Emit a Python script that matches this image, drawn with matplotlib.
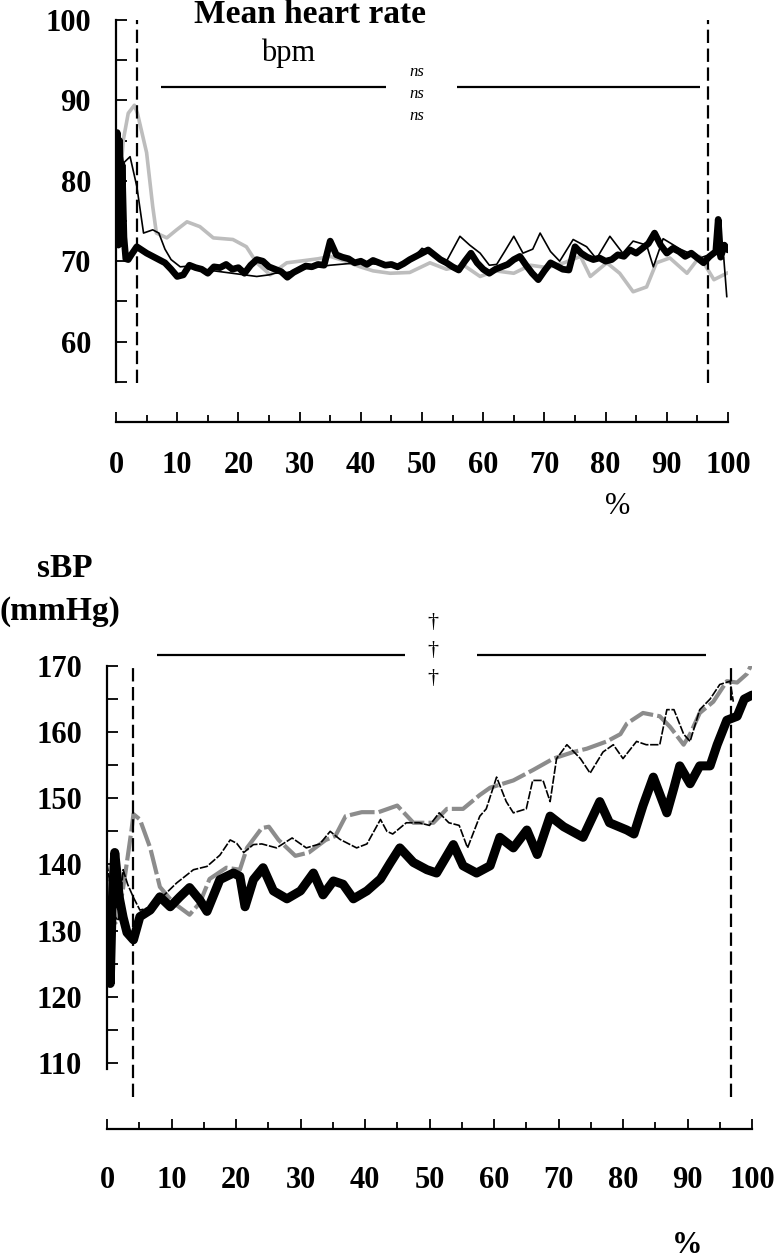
import matplotlib
matplotlib.use("Agg")
import matplotlib.pyplot as plt
import numpy as np

plt.rcParams['font.family'] = ['Liberation Serif', 'DejaVu Serif']

# ---- heart rate (bpm), % of exercise ----
hr_thick_x = [0, 0.2, 0.4, 0.6, 0.8, 1.0, 1.3, 1.6, 2.0, 2.5, 3.4, 4.2, 5, 6, 7, 8, 9, 10,
              11, 12, 13, 14, 15, 16, 17, 18, 19, 20, 21, 22, 23, 24, 25, 26, 27, 28, 29, 30,
              31, 32, 33, 34, 35, 36, 37, 38, 39, 40, 41, 42, 43, 44, 45, 46, 47, 48, 49, 50,
              51, 52, 53, 54, 55, 56, 57, 58, 59, 60, 61, 62, 63, 64, 65, 66, 67, 68, 69, 70,
              71, 72, 73, 74, 75, 76, 77, 78, 79, 80, 81, 82, 83, 84, 85, 86, 87, 88, 89, 90,
              91, 92, 93, 94, 95, 96, 97, 98, 98.4, 98.8, 99.4, 100]
hr_thick = [76, 86, 72, 85, 74, 82, 73, 70.3, 70.2, 70.8, 71.8, 71.4, 71, 70.6, 70.2, 69.8, 69, 68.1,
            68.3, 69.5, 69.2, 69, 68.5, 69.3, 69.2, 69.6, 69, 69.2, 68.5, 69.5, 70.2, 70.0, 69.3, 69, 68.7, 68.0, 68.6, 69,
            69.4, 69.3, 69.6, 69.5, 72.5, 70.8, 70.5, 70.3, 69.8, 70, 69.6, 70.1, 69.8, 69.5, 69.6, 69.3, 69.7, 70.2, 70.6, 71.0,
            71.4, 70.8, 70.2, 69.8, 69.3, 68.9, 70.0, 71.0, 69.8, 69.0, 68.5, 69, 69.3, 69.6, 70.2, 70.6, 69.5, 68.5, 67.7, 68.8,
            69.8, 69.4, 69.0, 68.9, 71.8, 71.0, 70.5, 70.2, 70.4, 70.0, 70.2, 70.8, 70.6, 71.4, 71.0, 71.6, 72.2, 73.5, 72.0, 71.0,
            71.6, 71.2, 70.6, 71.0, 70.4, 69.8, 70.6, 71.2, 75.2, 70.5, 72, 71.4]

hr_thin_x = [0, 0.3, 0.6, 0.9, 1.2, 2.3, 3.4, 4.5, 6, 7, 8, 9, 10.5, 12, 14, 16, 19, 21, 23, 25,
             26, 28, 30, 32, 35, 38, 40, 43, 46, 48, 50, 52, 54, 56.2, 57.8, 59.5, 61, 62.2, 63.5, 65,
             66.5, 68.1, 69.3, 71, 72.5, 74.7, 76.9, 78.5, 80.7, 82.8, 84.5, 86.7, 87.8, 89.4, 92.2,
             95.4, 97.7, 99.3, 99.8]
hr_thin = [79, 84.7, 80, 83.5, 82.2, 83, 79.3, 73.5, 73.9, 73.5, 71.5, 70.2, 69.3, 69.4, 69, 68.8, 68.5, 68.3, 68.1, 68.3,
           68.5, 68.6, 69, 69.2, 69.5, 69.7, 69.8, 69.6, 69.4, 70.0, 71.6, 70.9, 70, 73.1, 72, 71, 69.5, 69.6, 71.2, 73.1,
           71, 71.5, 73.5, 71.2, 70, 72.7, 71.8, 70.3, 73.1, 71, 72.5, 72, 69.3, 72.8, 71.5,
           70.4, 71, 70.5, 65.6]

hr_gray_x = [0, 0.4, 0.8, 1.2, 2, 3, 3.5, 5, 6, 6.6, 8.3, 9.9, 11.6, 13.7, 15.9, 19.1, 21.3, 23, 25.2,
             27.9, 30, 33, 35, 37.5, 39.9, 42, 44.8, 48, 51.3, 54, 56.8, 59.5, 62, 65, 67.7, 70.5, 73.2,
             75.9, 77.5, 80.2, 82.3, 84.5, 86.7, 88.3, 90.5, 93.3, 95.4, 97.7, 99.8]
hr_gray = [74.9, 77.9, 81.4, 85.1, 88.4, 89.4, 88.4, 83.5, 76.8, 73.5, 72.9, 73.9, 74.9, 74.3, 72.9, 72.7, 71.8, 69.8, 68.3,
           69.8, 70, 70.3, 70.6, 70.0, 69.3, 68.8, 68.5, 68.6, 69.8, 69, 69.5, 68.1, 68.8, 68.5, 69.5, 69.2, 69.8,
           70.6, 68.1, 69.8, 68.5, 66.2, 66.8, 69.8, 70.4, 68.5, 70.6, 67.7, 68.5]

# ---- systolic blood pressure (mmHg) ----
sbp_thick_x = [0, 0.3, 0.5, 0.8, 1.2, 1.6, 1.9, 2.5, 3.1, 4.1, 5.1, 6.7, 8.2, 9.8, 11.3, 12.8, 14.4, 15.5,
               17.5, 19.6, 20.6, 21.4, 22.7, 24.2, 25.8, 27.9, 30, 32, 33.5, 35.1, 36.6, 38.2, 40.3, 42.4,
               43.9, 45.4, 47.5, 49.6, 51.1, 53.7, 55.2, 57.3, 59.4, 60.9, 63, 65.1, 66.7, 68.7, 70.8, 73.8,
               76.4, 77.9, 80.6, 81.7, 83.1, 84.7, 86.8, 87.9, 88.8, 90.4, 91.9, 93.5, 94.6, 96.1, 97.7, 98.8, 100]
sbp_thick = [125, 127.6, 122, 134, 141.8, 138, 135, 132, 129.7, 128.6, 132.1, 133.1, 135.1, 133.6, 135.1, 136.5, 134.6, 132.9,
             137.7, 138.7, 138.2, 133.6, 137.7, 139.5, 136, 134.8, 136, 138.7, 135.4, 137.5, 137, 134.8, 136, 137.8,
             140.2, 142.5, 140.3, 139.2, 138.7, 143, 139.8, 138.7, 139.8, 144.1, 142.5, 145.2, 141.5, 147.3, 145.7, 144.1,
             149.5, 146.3, 145.2, 144.6, 148.9, 153.2, 147.8, 151.6, 154.9, 152.2, 154.9, 154.9, 158.1, 161.8, 162.4, 165, 165.6]

sbp_thin_x = [0, 0.6, 1.2, 1.8, 2.5, 3.2, 4.1, 5.1, 7.3, 9, 10.8, 13.4, 15.5, 17.5, 19.1, 20.1, 21.2, 22.7,
              24, 26.3, 28.7, 30.9, 33, 34.6, 36.1, 38.7, 40.3, 42.4, 43.4, 44.3, 46.4, 48.4, 50, 51.5, 53,
              54.6, 55.9, 57.8, 58.8, 60.4, 61.9, 63, 65, 66, 67.6, 68.7, 69.7, 71.3, 73.4, 74.9, 76.9, 78.5,
              80, 82.1, 83.6, 85.7, 86.8, 87.9, 89.4, 90.4, 91.9, 93.5, 95, 96.6, 97.1]
sbp_thin = [140.2, 136, 132.1, 131.5, 139.2, 137, 135, 133.1, 133.6, 135.5, 137.2, 139.2, 139.7, 141.4, 143.7, 143.2, 141.8, 143,
            143.1, 142.5, 144, 142.5, 143.1, 145, 143.8, 142.5, 143.1, 146.8, 145, 144.6, 146.3, 146.3, 145.9, 147.8, 146.3,
            145.9, 142.5, 147.3, 148.4, 153.2, 149.5, 147.8, 148.4, 152.7, 152.7, 149.5, 156, 158.1, 156, 153.8, 157, 158.1,
            156, 158.6, 158.1, 158.1, 163.4, 163.4, 159.7, 158.6, 163.4, 165, 167.2, 167.7, 164.6]

sbp_gray_x = [0, 0.7, 1.7, 2.7, 3.8, 4.1, 5.1, 6.7, 8.2, 10.3, 12.8, 14.4, 15.9, 18.5, 20.6, 21.7, 24, 25.1,
              26.6, 29.2, 31.3, 33.9, 35.4, 37, 39.5, 42.1, 45, 47.5, 50.6, 52.7, 55.2, 57.8, 59.4, 63, 66.1,
              69.2, 72.3, 74.4, 77.5, 79.6, 80.6, 83.1, 85.7, 87.3, 89.4, 90.4, 91.9, 94, 96.1, 97.7, 99.2, 100]
sbp_gray = [137.7, 130.6, 131.6, 137.7, 145.2, 147.6, 146.8, 142.5, 136.6, 134.2, 132.4, 134.2, 137.8, 139.5, 139.2, 142.5, 145.5, 145.7,
            143.7, 141.3, 141.8, 143.7, 144.3, 147.3, 147.9, 147.9, 148.9, 146.3, 146.3, 148.4, 148.4, 150.5, 151.6, 152.7, 154.3,
            156, 157, 157.5, 158.6, 159.7, 161.3, 162.9, 162.4, 160.8, 158.1, 159.7, 162.9, 164.6, 167.7, 167.5, 168.8, 170.4]

x_ticks = np.arange(0, 101, 10)
hr_ticks = [60, 70, 80, 90, 100]
hr_minor = [55, 65, 75, 85, 95]
sbp_ticks = [110, 120, 130, 140, 150, 160, 170]
sbp_minor = [115, 125, 135, 145, 155, 165]

W, H = 777, 1260
fig = plt.figure(figsize=(W / 100, H / 100), dpi=100)
DASH = (0, (6, 2.5))


def px_axes(l, r, t, b):
    return fig.add_axes([l / W, 1 - b / H, (r - l) / W, (b - t) / H])


def px_text(x, y, s, **kw):
    kw.setdefault('ha', 'center')
    kw.setdefault('va', 'baseline')
    fig.text(x / W, 1 - y / H, s, **kw)


def style_axes(ax, ylo, yhi, ymin_spine, yticks, yminor, xpad, ypad):
    ax.set_xlim(0, 100)
    ax.set_ylim(ylo, yhi)
    for s in ['top', 'right']:
        ax.spines[s].set_visible(False)
    ax.spines['left'].set_bounds(ymin_spine, yhi)
    ax.spines['left'].set_linewidth(1.6)
    ax.spines['bottom'].set_linewidth(1.6)
    ax.set_xticks(x_ticks)
    ax.set_xticks(np.arange(5, 100, 10), minor=True)
    ax.set_yticks(yticks)
    ax.set_yticks(yminor, minor=True)
    ax.tick_params(axis='x', which='major', direction='in', length=7, width=1.3,
                   labelsize=22, pad=xpad)
    ax.tick_params(axis='x', which='minor', direction='in', length=5, width=1.3)
    ax.tick_params(axis='y', which='both', direction='in', length=8, width=1.3,
                   labelsize=22, pad=ypad)
    for lab in ax.get_xticklabels() + ax.get_yticklabels():
        lab.set_fontweight('bold')
    ax.patch.set_alpha(0)


# ---------- top panel: heart rate ----------
ax1 = px_axes(116, 728, 20, 422)
ax1.plot(hr_gray_x, hr_gray, color='#bdbdbd', lw=2.6, solid_joinstyle='round')
ax1.plot(hr_thin_x, hr_thin, color='black', lw=1.2)
ax1.plot(hr_thick_x, hr_thick, color='black', lw=4.8, solid_joinstyle='round',
         solid_capstyle='round')
style_axes(ax1, 50, 100, 55, hr_ticks, hr_minor, 21, 18)
ax1.vlines([3.4, 96.7], 54.9, 100, colors='black', lw=1.6, linestyles=DASH)
ax1.hlines(91.7, 7.4, 44.1, colors='black', lw=1.6, clip_on=False)
ax1.hlines(91.7, 55.7, 95.4, colors='black', lw=1.6, clip_on=False)

px_text(310, 23, 'Mean heart rate', fontsize=24, fontweight='bold')
px_text(288, 61, 'bpm', fontsize=22)
for yy in [76, 98, 120]:
    px_text(417, yy, 'ns', fontsize=12, style='italic')
px_text(618, 514, '%', fontsize=22)

# ---------- bottom panel: sBP ----------
ax2 = px_axes(107, 752, 666, 1129)
ax2.plot(sbp_gray_x, sbp_gray, color='#8c8c8c', lw=3, linestyle=(0, (6, 1)))
ax2.plot(sbp_thin_x, sbp_thin, color='black', lw=1.2, linestyle=(0, (5, 1)))
ax2.plot(sbp_thick_x, sbp_thick, color='black', lw=6.5, solid_joinstyle='round',
         solid_capstyle='round')
style_axes(ax2, 100, 170, 109, sbp_ticks, sbp_minor, 27, 18)
ax2.vlines(4.0, 104.9, 170, colors='black', lw=1.6, linestyles=DASH)
ax2.vlines(96.7, 104.9, 170.5, colors='black', lw=1.6, linestyles=DASH,
           clip_on=False)
ax2.hlines(171.7, 7.75, 46.2, colors='black', lw=1.6, clip_on=False)
ax2.hlines(171.7, 57.4, 92.9, colors='black', lw=1.6, clip_on=False)

for yy in [623, 650, 678]:
    px_text(433, yy, '\u2020', fontsize=16, va='center')
px_text(65, 577, 'sBP', fontsize=24, fontweight='bold')
px_text(60, 620, '(mmHg)', fontsize=24, fontweight='bold')
px_text(687, 1253, '%', fontsize=22, fontweight='bold')

fig.savefig('out.png', dpi=100, facecolor='white')
